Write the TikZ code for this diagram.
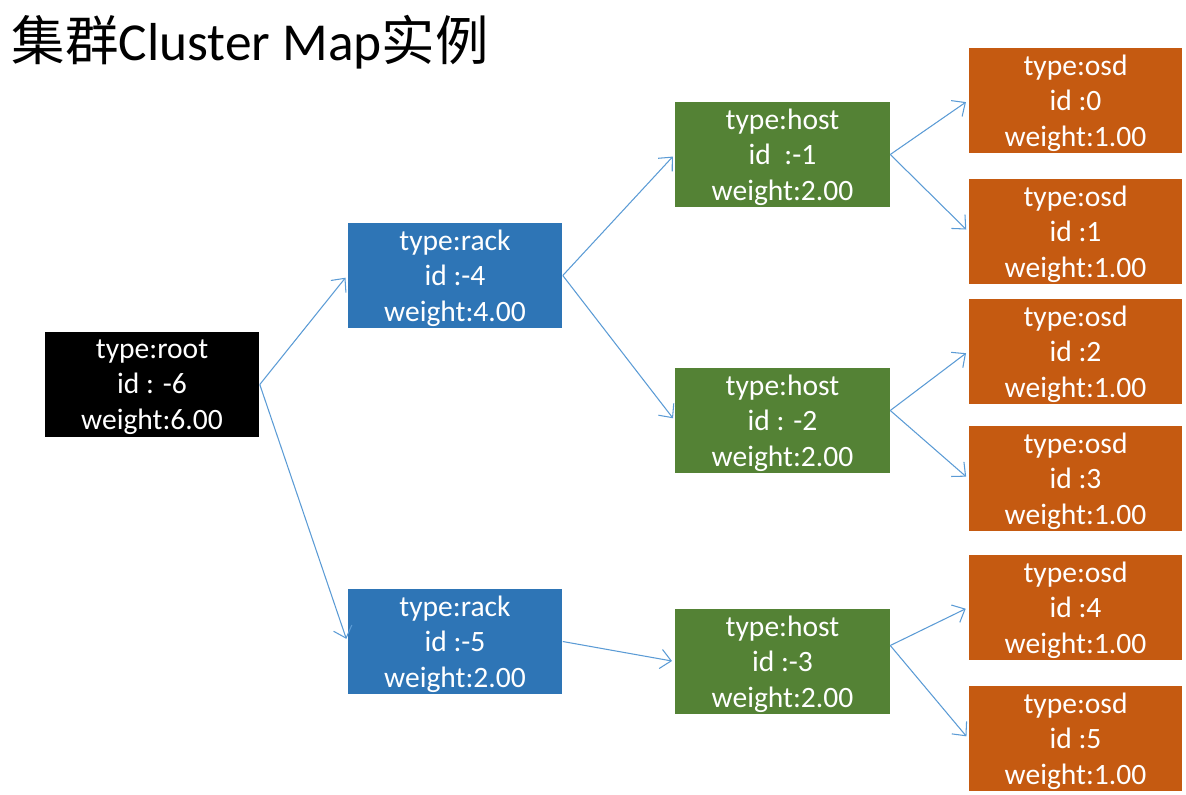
\documentclass[tikz,border=0pt]{standalone}
\usepackage{fontspec}
\usetikzlibrary{arrows.meta}
\setmainfont{Carlito}
\newfontfamily\cjk{Noto Sans CJK SC}
\definecolor{rootfill}{HTML}{000000}
\definecolor{rackfill}{HTML}{2E75B6}
\definecolor{hostfill}{HTML}{548235}
\definecolor{osdfill}{HTML}{C55A11}
\definecolor{linkline}{HTML}{5B9BD5}
\tikzset{
    bucket/.style={rectangle, inner sep=0pt, minimum width=2.14cm, minimum height=1.05cm,
        text=white, align=center, text depth=0pt, font=\fontsize{8.4}{10.15}\selectfont},
    rootbox/.style={bucket, fill=rootfill},
    rackbox/.style={bucket, fill=rackfill},
    hostbox/.style={bucket, fill=hostfill},
    osdbox/.style={bucket, fill=osdfill, minimum width=2.13cm},
    link/.style={draw=linkline, line width=0.3pt, shorten >=0.8pt,
        -{Straight Barb[length=3pt,width=5.5pt]}}
}
\begin{document}
\begin{tikzpicture}[x=0.01cm, y=-0.01cm]
    \useasboundingbox (0,0) rectangle (1186,794);

    \node[anchor=west, inner sep=0pt, font=\fontsize{15.2}{18}\selectfont] (title) at (11,42)
        {{\cjk 集群}Cluster Map{\cjk 实例}};

    \node[rootbox] (root6) at (152,384.5) {type:root\\id : -6\\weight:6.00};

    \node[rackbox] (rack4) at (455,275.5) {type:rack\\id :-4\\weight:4.00};
    \node[rackbox] (rack5) at (455,641.5) {type:rack\\id :-5\\weight:2.00};

    \node[hostbox] (host1) at (782.5,154.5) {type:host\\id \ :-1\\weight:2.00};
    \node[hostbox] (host2) at (782.5,420.5) {type:host\\id : -2\\weight:2.00};
    \node[hostbox] (host3) at (782.5,661.5) {type:host\\id :-3\\weight:2.00};

    \node[osdbox] (osd0) at (1075.5,100.5) {type:osd\\id :0\\weight:1.00};
    \node[osdbox] (osd1) at (1075.5,231.5) {type:osd\\id :1\\weight:1.00};
    \node[osdbox] (osd2) at (1075.5,351.5) {type:osd\\id :2\\weight:1.00};
    \node[osdbox] (osd3) at (1075.5,478.5) {type:osd\\id :3\\weight:1.00};
    \node[osdbox] (osd4) at (1075.5,607.5) {type:osd\\id :4\\weight:1.00};
    \node[osdbox] (osd5) at (1075.5,738.5) {type:osd\\id :5\\weight:1.00};

    \draw[link] (root6.east) -- (rack4.west);
    \draw[link] (root6.east) -- (rack5.west);
    \draw[link] (rack4.east) -- (host1.west);
    \draw[link] (rack4.east) -- (host2.west);
    \draw[link] (rack5.east) -- (host3.west);
    \draw[link] (host1.east) -- (osd0.west);
    \draw[link] (host1.east) -- (osd1.west);
    \draw[link] ([yshift=0.1cm]host2.east) -- (osd2.west);
    \draw[link] ([yshift=0.1cm]host2.east) -- (osd3.west);
    \draw[link] ([yshift=0.16cm]host3.east) -- (osd4.west);
    \draw[link] ([yshift=0.16cm]host3.east) -- (osd5.west);
\end{tikzpicture}
\end{document}
